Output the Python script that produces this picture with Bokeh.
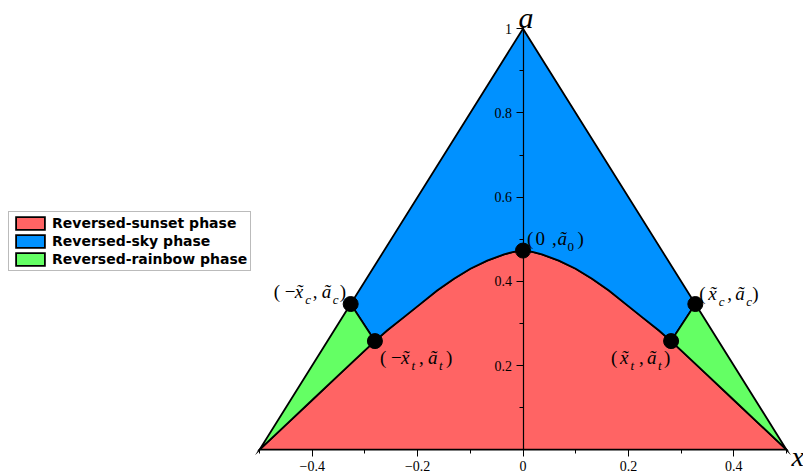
from bokeh.plotting import figure
from bokeh.models import (LinearAxis, FixedTicker, CustomJSTickFormatter, Legend,
                          LegendItem, ColumnDataSource, Range1d)
from bokeh.core.properties import value
from bokeh.embed import file_html
from bokeh.resources import INLINE

# Boundary a(x) of the reversed-sunset region
curve_x = [-0.5, -0.45, -0.4, -0.35, -0.3, -0.281, -0.258, -0.226, -0.194, -0.163,
           -0.131, -0.1, -0.068, -0.036, -0.018, 0.0, 0.018, 0.036, 0.068, 0.1,
           0.131, 0.163, 0.194, 0.226, 0.258, 0.281, 0.3, 0.35, 0.4, 0.45, 0.5]
curve_a = [0.0, 0.059, 0.118, 0.177, 0.236, 0.258, 0.283, 0.315, 0.347, 0.378,
           0.406, 0.430, 0.449, 0.464, 0.470, 0.473, 0.470, 0.464, 0.449, 0.430,
           0.406, 0.378, 0.347, 0.315, 0.283, 0.258, 0.236, 0.177, 0.118, 0.059, 0.0]

# Outer triangle: base corners and apex
tri_x = [-0.5, 0.0, 0.5]
tri_a = [0.0, 1.0, 0.0]

# Special points
x_c, a_c = 0.327, 0.346
x_t, a_t = 0.281, 0.258
a_0 = 0.473
pt_x = [0.0, -x_c, x_c, -x_t, x_t]
pt_a = [a_0, a_c, a_c, a_t, a_t]

phase_names = ["Reversed-sunset phase", "Reversed-sky phase", "Reversed-rainbow phase"]
phase_colors = ["#ff6464", "#0091ff", "#64ff64"]

x_major = [-0.4, -0.2, 0.0, 0.2, 0.4]
x_minor = [-0.5, -0.3, -0.1, 0.1, 0.3, 0.5]
a_major = [0.2, 0.4, 0.6, 0.8, 1.0]
a_minor = [0.1, 0.3, 0.5, 0.7, 0.9]

SERIF = "Liberation Serif"

p = figure(width=803, height=472,
           x_range=Range1d(-522.5 / 527, (803 - 522.5) / 527),
           y_range=Range1d((449.2 - 472) / 421, 449.2 / 421),
           x_axis_type=None, y_axis_type=None,
           toolbar_location=None, output_backend="svg",
           min_border=0, outline_line_color=None)

# ---- phase regions -------------------------------------------------------
curve = list(zip(curve_x, curve_a))

red_x, red_y = list(curve_x), list(curve_a)

mid = [pt for pt in curve if -x_t <= pt[0] <= x_t][::-1]
blue_x = [-x_c, tri_x[1], x_c] + [q[0] for q in mid]
blue_y = [a_c, tri_a[1], a_c] + [q[1] for q in mid]

left = [pt for pt in curve if pt[0] <= -x_t][::-1]
right = [pt for pt in curve if pt[0] >= x_t]
green_xs = [[-x_c] + [q[0] for q in left], [x_c] + [q[0] for q in right]]
green_ys = [[a_c] + [q[1] for q in left], [a_c] + [q[1] for q in right]]

style = dict(line_color="black", line_width=1.8, line_join="miter")
r_red = p.patches([red_x], [red_y], fill_color=phase_colors[0], **style)
r_blue = p.patches([blue_x], [blue_y], fill_color=phase_colors[1], **style)
r_green = p.patches(green_xs, green_ys, fill_color=phase_colors[2], **style)

p.scatter(pt_x, pt_a, size=15, color="black")

# ---- axes crossing at the origin -------------------------------------------
fmt = CustomJSTickFormatter(code="return (Math.round(tick * 10) / 10).toString().replace('-', '\u2212');")

xaxis = LinearAxis(fixed_location=0, bounds=(-0.5, 0.5),
                   ticker=FixedTicker(ticks=x_major, minor_ticks=x_minor),
                   formatter=fmt)
yaxis = LinearAxis(fixed_location=0, bounds=(0, 1),
                   ticker=FixedTicker(ticks=a_major, minor_ticks=a_minor),
                   formatter=fmt)
for ax in (xaxis, yaxis):
    ax.major_tick_out = 7
    ax.major_tick_in = 0
    ax.minor_tick_out = 4
    ax.minor_tick_in = 0
    ax.axis_line_width = 1.2
    ax.major_label_text_font = SERIF
    ax.major_label_text_font_size = "14px"
    ax.major_label_text_color = "black"
    ax.major_label_standoff = 4
p.add_layout(xaxis, "below")
p.add_layout(yaxis, "left")

p.text(x=[tri_x[1]], y=[tri_a[1]], text=["a"], x_offset=3, y_offset=-11,
       text_font=value(SERIF), text_font_style="italic", text_font_size="30px",
       text_align="center", text_baseline="alphabetic", text_color="black")
p.text(x=[tri_x[2]], y=[tri_a[2]], text=["x"], x_offset=5, y_offset=7,
       text_font=value(SERIF), text_font_style="italic", text_font_size="28px",
       text_align="left", text_baseline="alphabetic", text_color="black")

# ---- point labels, built from pieces with subscripts -------------------------
def pattern(neg, sub):
    if neg is None:
        return [("(", 0, "up"), ("0", 8.5, "up"), (",", 25, "up"),
                ("ã", 30.5, "it"), ("0", 40.5, "sub_up"), (")", 50.5, "up")]
    if neg:
        return [("(", 0, "up"), ("\u2212", 11, "up"), ("x\u0303", 21, "it"),
                (sub, 31.5, "sub_it"), (",", 39, "up"), ("ã", 48, "it"),
                (sub, 59, "sub_it"), (")", 66, "up")]
    return [("(", 0, "up"), ("x\u0303", 9, "it"), (sub, 19.5, "sub_it"),
            (",", 28, "up"), ("ã", 36, "it"), (sub, 47, "sub_it"), (")", 53, "up")]

labels = [  # point index, sign, subscript, offset of "(" from the dot
    (0, None, "0", 4, -12),
    (1, True, "c", -77, -13),
    (2, False, "c", 4, -11),
    (3, True, "t", 5, 16),
    (4, False, "t", -60, 16),
]

groups = {k: dict(x=[], y=[], text=[], xo=[], yo=[]) for k in ("up", "it", "sub_up", "sub_it")}
for idx, neg, sub, dx0, dy0 in labels:
    for txt, dx, kind in pattern(neg, sub):
        g = groups[kind]
        g["x"].append(pt_x[idx])
        g["y"].append(pt_a[idx])
        g["text"].append(txt)
        g["xo"].append(dx0 + dx)
        g["yo"].append(dy0 + (8 if kind.startswith("sub") else 0))

for kind, g in groups.items():
    p.text(x="x", y="y", text="text", x_offset="xo", y_offset="yo",
           source=ColumnDataSource(g),
           text_font=value(SERIF),
           text_font_style="italic" if kind.endswith("it") else "normal",
           text_font_size="13px" if kind.startswith("sub") else "19px",
           text_align="left", text_baseline="alphabetic", text_color="black")

# ---- legend ------------------------------------------------------------------
legend = Legend(items=[LegendItem(label=phase_names[0], renderers=[r_red]),
                       LegendItem(label=phase_names[1], renderers=[r_blue]),
                       LegendItem(label=phase_names[2], renderers=[r_green])],
                location=(8, 201), orientation="vertical",
                padding=3, spacing=2, margin=0,
                glyph_width=36, glyph_height=16, label_height=16,
                label_standoff=4,
                label_text_font="DejaVu Sans", label_text_font_style="bold",
                label_text_font_size="14px", label_text_color="black",
                border_line_color="#777777", border_line_width=1,
                background_fill_color="white", background_fill_alpha=1.0)
p.add_layout(legend, "center")

open("out.html", "w").write(file_html(p, INLINE))
